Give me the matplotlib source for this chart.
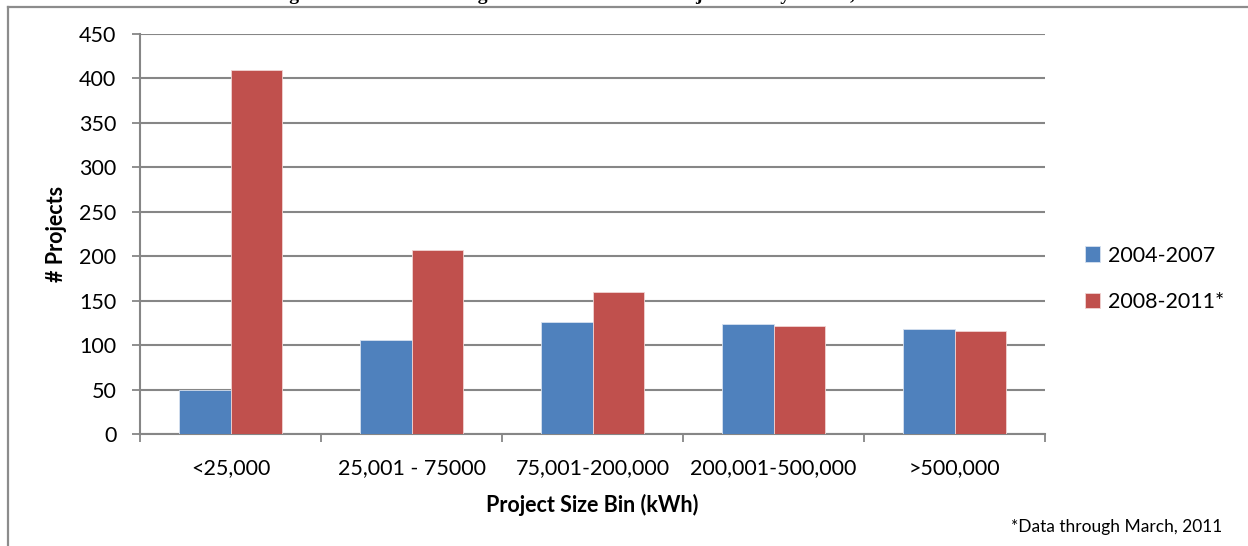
import numpy as np
import matplotlib.pyplot as plt
from matplotlib.lines import Line2D

# Projects per size bin, two periods
bins = ["<25,000", "25,001 - 75000", "75,001-200,000", "200,001-500,000", ">500,000"]
period_a = [49, 106, 126, 124, 118]
period_b = [409, 207, 160, 122, 116]
series_names = ["2004-2007", "2008-2011*"]
y_ticks = [0, 50, 100, 150, 200, 250, 300, 350, 400, 450]

plt.rcParams["font.family"] = ["Lato", "DejaVu Sans"]

fig = plt.figure(figsize=(12.48, 5.46), dpi=100)
ax = fig.add_axes([140 / 1248, 1 - 434 / 546, 905 / 1248, 400 / 546])

x = np.arange(len(bins))
w = 1 / 3.5
ax.bar(x - w / 2, period_a, w, color="#4F81BD", edgecolor="#D6E1F0", linewidth=0.6,
       label=series_names[0], zorder=3)
ax.bar(x + w / 2, period_b, w, color="#C0504D", edgecolor="#F0D4D3", linewidth=0.6,
       label=series_names[1], zorder=3)

ax.set_xlim(-0.5, len(bins) - 0.5)
ax.set_ylim(0, 450)
ax.set_yticks(y_ticks)
ax.set_xticks(np.arange(len(bins) + 1) - 0.5, minor=True)
ax.set_xticks(x)
ax.set_xticklabels(bins, fontsize=15.5)
ax.tick_params(axis="x", which="major", length=0, pad=17)
ax.tick_params(axis="x", which="minor", length=6, width=1.3, color="#868686")
ax.tick_params(axis="y", length=6, width=1.3, color="#868686", pad=11, labelsize=15.5)

ax.yaxis.grid(True, color="#868686", linewidth=1.5, zorder=0)
for side in ("top", "right"):
    ax.spines[side].set_visible(False)
for side in ("left", "bottom"):
    ax.spines[side].set_color("#868686")
    ax.spines[side].set_linewidth(1.5)

ax.set_xlabel("Project Size Bin (kWh)", fontsize=15.5, fontweight="bold", labelpad=12)
ax.set_ylabel("# Projects", fontsize=15.5, fontweight="bold", labelpad=9)

# legend sits a little below the middle of the plot
ax.legend(loc="center left", bbox_to_anchor=(1.028, 1 - (279 - 34) / 400), frameon=False,
          fontsize=15.5, handlelength=0.7, handleheight=0.7, handletextpad=0.35,
          labelspacing=1.25, borderaxespad=0.3)

fig.text(1222 / 1248, 1 - 532 / 546, "*Data through March, 2011", ha="right",
         va="baseline", fontsize=12.5)

# chart frame and the bottom of the caption above it
fig.add_artist(Line2D([8 / 1248, 1], [1 - 7 / 546] * 2, color="#8C8C8C", linewidth=1.6))
fig.add_artist(Line2D([8 / 1248] * 2, [0, 1 - 7 / 546], color="#8C8C8C", linewidth=1.6))
fig.text(0.487, 1 + 0.5 / 546, "Figure 3: Number of Program Rebates in Each Project Size by Period, 2004-2011",
         ha="center", va="baseline", fontsize=14, fontweight="bold",
         family=["Liberation Serif", "DejaVu Serif"])

fig.savefig("out.png", dpi=100, facecolor="white")
